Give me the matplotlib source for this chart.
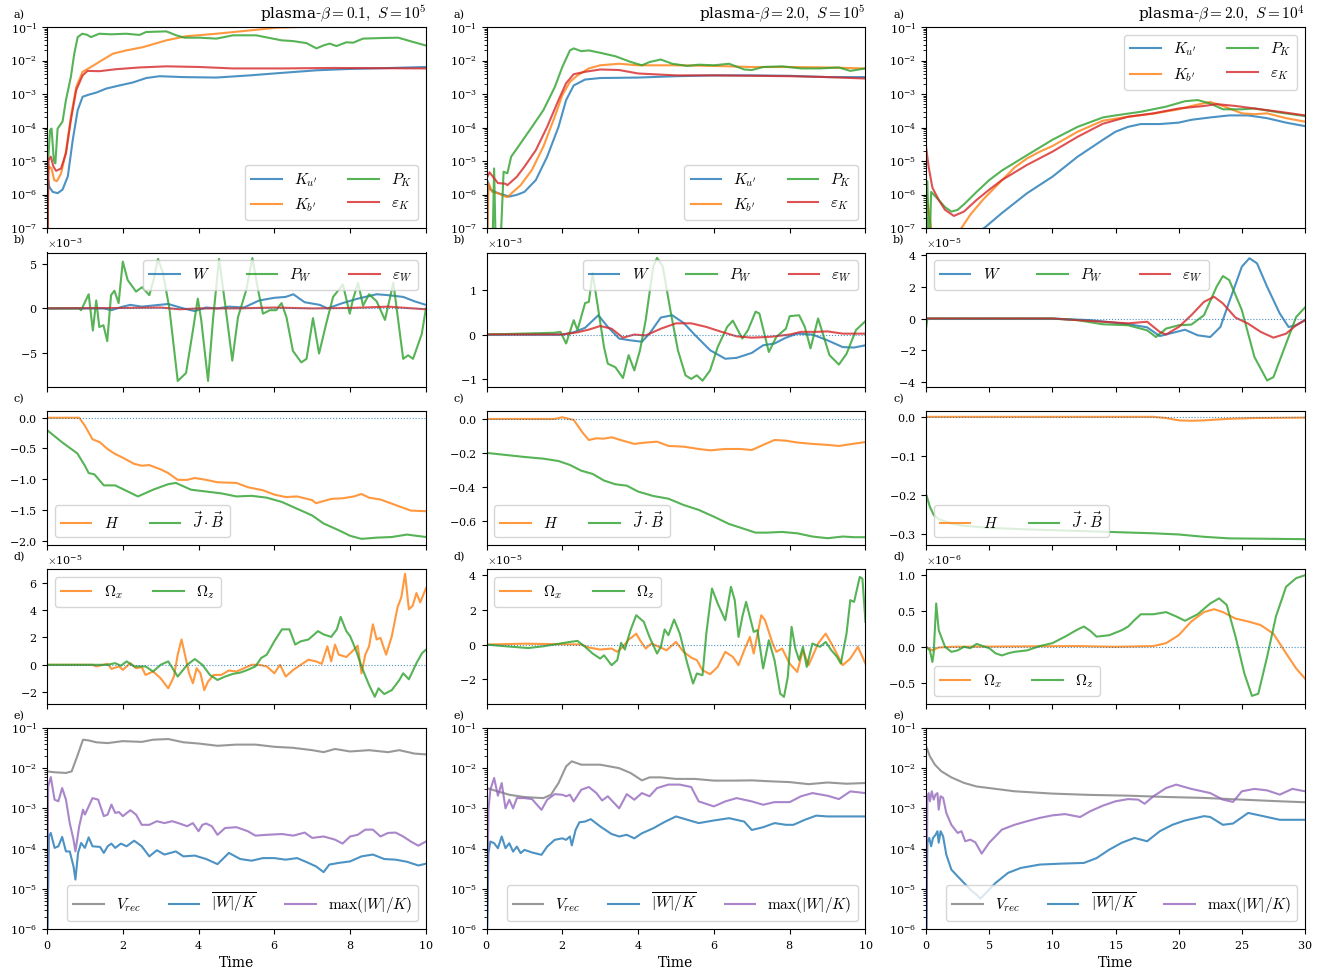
import numpy as np
import matplotlib
matplotlib.use('Agg')
import matplotlib.pyplot as plt
from matplotlib.ticker import LogLocator, MultipleLocator

plt.rcParams['font.family'] = 'serif'
plt.rcParams['font.serif'] = ['DejaVu Serif']
plt.rcParams['mathtext.fontset'] = 'cm'
plt.rcParams['axes.formatter.use_mathtext'] = True
plt.rcParams['xtick.labelsize'] = 8
plt.rcParams['ytick.labelsize'] = 8
plt.rcParams['legend.fontsize'] = 11

titles = [r'plasma-$\beta=0.1,\ S=10^5$', r'plasma-$\beta=2.0,\ S=10^5$', r'plasma-$\beta=2.0,\ S=10^4$']
t_end = [10, 10, 30]

# ---- row a: energies (log) ----
ku1 = [(0,1e-9),(0.03,2.7e-6),(0.06,1.7e-6),(0.15,1.2e-6),(0.28,1.1e-6),(0.41,1.4e-6),(0.55,3.5e-6),(0.68,4.3e-5),(0.81,3.3e-4),(0.94,8.3e-4),(1.12,9.7e-4),(1.3,1.1e-3),(1.56,1.45e-3),(1.91,1.8e-3),(2.26,2.2e-3),(2.62,3.0e-3),(2.97,3.4e-3),(3.59,3.2e-3),(4.47,3.1e-3),(5.35,3.6e-3),(6.23,4.3e-3),(7.11,5.1e-3),(7.99,5.6e-3),(8.87,5.9e-3),(10,6.4e-3)]
kb1 = [(0,1e-9),(0.03,5e-6),(0.06,6.8e-6),(0.12,6e-6),(0.19,2.7e-6),(0.26,2.5e-6),(0.37,4.2e-6),(0.5,1.9e-5),(0.63,2.1e-4),(0.77,1.6e-3),(0.94,4.6e-3),(1.16,6.4e-3),(1.38,9.1e-3),(1.74,1.6e-2),(2.09,2.0e-2),(2.53,2.5e-2),(3.15,4e-2),(3.67,5.3e-2),(4.47,6.3e-2),(5.35,7.9e-2),(6.05,9.5e-2),(6.67,0.1),(7.55,0.105),(8.43,0.107),(10,0.11)]
pk1 = [(0,1e-9),(0.03,1e-5),(0.08,8.3e-5),(0.12,9.3e-5),(0.18,1.07e-5),(0.22,8.5e-6),(0.28,9.3e-5),(0.41,1.5e-4),(0.5,6.6e-4),(0.63,3.25e-3),(0.72,1.61e-2),(0.81,5.0e-2),(0.93,6.3e-2),(1.05,5.9e-2),(1.16,5.0e-2),(1.38,6.3e-2),(1.69,6.05e-2),(2.09,6.3e-2),(2.44,5.8e-2),(2.62,7.1e-2),(3.15,7.4e-2),(3.41,5.65e-2),(3.63,4.8e-2),(4.03,4.8e-2),(4.47,4.5e-2),(4.91,5.65e-2),(5.52,5.65e-2),(5.96,4.5e-2),(6.19,4.0e-2),(6.49,3.8e-2),(6.85,3.3e-2),(7.11,2.3e-2),(7.29,2.8e-2),(7.46,3.2e-2),(7.64,2.7e-2),(7.9,3.5e-2),(8.08,3.4e-2),(8.34,4.5e-2),(8.87,4.7e-2),(9.27,4.8e-2),(9.58,3.8e-2),(10,2.8e-2)]
ek1 = [(0,1e-9),(0.04,1.07e-5),(0.1,1.35e-5),(0.17,6.8e-6),(0.24,5.1e-6),(0.37,6e-6),(0.5,1.7e-5),(0.63,1.66e-4),(0.77,1.3e-3),(0.94,3.6e-3),(1.07,4.9e-3),(1.38,4.8e-3),(1.82,5.5e-3),(2.44,6.2e-3),(3.15,6.7e-3),(4.03,6.4e-3),(4.91,5.8e-3),(6.23,5.8e-3),(7.55,6e-3),(10,5.8e-3)]

ku2 = [(0,1e-9),(0.03,2.5e-6),(0.1,1.4e-6),(0.3,1.1e-6),(0.6,8.7e-7),(0.8,9.8e-7),(1.0,1.2e-6),(1.3,2.7e-6),(1.6,1.35e-5),(1.9,1.05e-4),(2.1,6.6e-4),(2.3,1.8e-3),(2.6,2.7e-3),(3.0,3.0e-3),(4.0,3.1e-3),(5.0,3.4e-3),(6.0,3.6e-3),(7.0,3.6e-3),(8.0,3.5e-3),(9.0,3.2e-3),(10,3.2e-3)]
kb2 = [(0,1e-9),(0.05,2.2e-6),(0.15,1.2e-6),(0.3,1.1e-6),(0.5,8.7e-7),(0.55,8.4e-7),(0.7,1.2e-6),(0.9,1.9e-6),(1.2,5.5e-6),(1.5,2.7e-5),(1.8,2.1e-4),(2.0,9.3e-4),(2.2,2.3e-3),(2.4,3.6e-3),(2.7,5.8e-3),(3.0,7.2e-3),(3.5,8e-3),(4.0,7.2e-3),(5.0,7.2e-3),(6.0,6.9e-3),(7.0,6.4e-3),(8.0,6.4e-3),(9.0,6.2e-3),(10,5.8e-3)]
pk2 = [(0,1e-9),(0.15,1e-8),(0.2,6e-6),(0.25,1e-8),(0.35,1e-8),(0.45,4.8e-6),(0.55,4.3e-6),(0.65,1.35e-5),(0.9,3.4e-5),(1.2,1.05e-4),(1.5,3.3e-4),(1.8,1.6e-3),(2.0,6.4e-3),(2.2,2.0e-2),(2.3,2.3e-2),(2.5,1.9e-2),(2.7,2.0e-2),(3.0,1.7e-2),(3.4,1.34e-2),(3.8,9.1e-3),(4.1,7.2e-3),(4.3,9e-3),(4.6,1.07e-2),(4.9,8e-3),(5.3,6.9e-3),(5.6,7.5e-3),(6.0,7.2e-3),(6.4,8e-3),(6.8,5.4e-3),(7.0,5.2e-3),(7.3,6.4e-3),(7.8,6.7e-3),(8.3,5.8e-3),(8.8,5.8e-3),(9.3,6.2e-3),(9.6,4.9e-3),(10,5.8e-3)]
ek2 = [(0,3e-6),(0.08,4.6e-6),(0.3,2.2e-6),(0.5,2.1e-6),(0.55,1.9e-6),(0.8,3.4e-6),(1.0,6.8e-6),(1.3,2.1e-5),(1.6,1.05e-4),(1.9,6.6e-4),(2.1,2.1e-3),(2.3,3.9e-3),(2.6,4.6e-3),(3.0,5.4e-3),(3.5,5.2e-3),(4.0,4.1e-3),(5.0,3.6e-3),(6.0,3.6e-3),(7.0,3.5e-3),(8.0,3.4e-3),(9.0,3.2e-3),(10,2.9e-3)]

ku3 = [(0,1e-8),(4.6,1e-7),(6,2.8e-7),(8,1.1e-6),(10,3.4e-6),(12,1.35e-5),(14,4.3e-5),(15,7.5e-5),(16,1.05e-4),(17,1.27e-4),(18.5,1.27e-4),(20,1.4e-4),(21,1.7e-4),(22.5,2e-4),(24,2.3e-4),(25.5,2.3e-4),(27,1.9e-4),(28.5,1.4e-4),(30,1.1e-4)]
kb3 = [(0,1.5e-6),(0.5,5e-8),(1,3e-8),(2,4e-8),(2.8,1e-7),(3.5,2.5e-7),(4.5,7e-7),(5.5,1.7e-6),(7,6.4e-6),(8,1.2e-5),(9,1.9e-5),(10,2.8e-5),(12,7.5e-5),(14,1.6e-4),(16,2.1e-4),(18,2.6e-4),(20,3.5e-4),(21,4.4e-4),(22.5,5.8e-4),(23.5,4.4e-4),(25,2.65e-4),(26,2.5e-4),(27,2.65e-4),(28.5,1.9e-4),(30,1.5e-4)]
pk3 = [(0,1e-9),(0.1,2.5e-6),(0.25,1e-8),(0.4,1.2e-6),(1.0,6.9e-7),(1.5,4.2e-7),(2.0,3.1e-7),(2.5,3.5e-7),(3.0,5.1e-7),(4.0,1.2e-6),(5.0,2.7e-6),(6.0,5.2e-6),(8.0,1.5e-5),(10,4.3e-5),(12,1.05e-4),(14,2e-4),(15,2.3e-4),(17,2.95e-4),(19,4.2e-4),(20.5,6.1e-4),(21.5,6.6e-4),(22.5,5.2e-4),(23.5,3.5e-4),(25,3.5e-4),(26,3.7e-4),(28,2.8e-4),(30,2.2e-4)]
ek3 = [(0,2.6e-5),(0.2,6.8e-6),(0.5,1.6e-6),(1.0,6.9e-7),(1.5,3.5e-7),(2.2,2.3e-7),(3.0,3.1e-7),(4.0,6.9e-7),(5.0,1.4e-6),(6.0,2.7e-6),(8.0,7.7e-6),(10,1.9e-5),(12,5.3e-5),(14,1.3e-4),(16,2.1e-4),(18,2.65e-4),(20,3.7e-4),(22,4.4e-4),(23,5e-4),(24.5,4.4e-4),(26,3.7e-4),(28,2.95e-4),(30,2.3e-4)]

# ---- row b: W, P_W, eps_W (units of 1e-3, 1e-3, 1e-5) ----
w1 = [(0,0),(1.5,0),(1.7,-0.2),(2.0,0.2),(2.2,0.4),(2.5,0.2),(3.2,0.5),(3.6,0),(3.9,-0.3),(4.2,0.1),(4.5,0),(4.8,0.2),(5.2,0.1),(5.6,0.9),(6.0,1.2),(6.3,1.3),(6.5,1.6),(6.8,0.7),(7.2,0.4),(7.4,0),(7.8,0.6),(8.2,1.1),(8.7,1.6),(9.0,1.5),(9.4,1.3),(9.7,0.8),(10,0.4)]
pw1 = [(0,0),(0.85,0),(0.9,-0.2),(1.1,1.6),(1.21,-2.5),(1.3,0.9),(1.38,-2.1),(1.49,-1.9),(1.59,-3.7),(1.69,1.5),(1.78,2.0),(1.89,0.6),(2.0,5.3),(2.13,3.2),(2.35,1.9),(2.51,2.4),(2.7,1.5),(2.81,3.2),(2.93,5.6),(3.06,4.0),(3.23,0),(3.45,-8.2),(3.67,-7.3),(3.85,-2.5),(3.98,1.1),(4.07,-1.3),(4.25,-8.2),(4.38,-1.3),(4.54,5.6),(4.71,0.2),(4.89,-5.9),(5.04,-1.0),(5.26,2.1),(5.42,5.7),(5.57,2.1),(5.7,-0.6),(5.88,-0.2),(6.05,-0.2),(6.19,0.6),(6.32,-1.0),(6.49,-4.8),(6.71,-6.1),(6.85,-5.7),(7.02,-1.1),(7.18,-5.1),(7.37,-1.7),(7.55,1.3),(7.81,2.7),(7.99,-0.6),(8.08,1.1),(8.21,2.9),(8.34,0.3),(8.5,1.6),(8.7,0.8),(8.92,-1.3),(9.14,2.9),(9.4,-5.7),(9.53,-5.3),(9.66,-5.7),(9.89,-2.9),(10,0)]
ew1 = [(0,0),(2,0.05),(3,0.1),(3.5,-0.1),(4,0),(5,0),(6,0.1),(7,0),(8,0.05),(9,0.2),(10,-0.1)]

w2 = [(0,0),(2.0,0),(2.3,0.05),(2.6,0.15),(2.95,0.43),(3.2,0.17),(3.5,-0.09),(3.8,-0.13),(4.1,-0.16),(4.3,0.02),(4.6,0.38),(4.9,0.43),(5.2,0.26),(5.5,-0.01),(5.9,-0.35),(6.3,-0.54),(6.6,-0.52),(7.0,-0.41),(7.3,-0.24),(7.6,-0.2),(7.9,-0.07),(8.2,0.02),(8.6,0),(9.0,-0.13),(9.4,-0.28),(9.7,-0.29),(10,-0.24)]
pw2 = [(0,0),(1.8,0.04),(1.95,0.06),(2.1,-0.2),(2.3,0.32),(2.4,0.1),(2.6,0.7),(2.7,0.73),(2.8,1.37),(2.95,0.55),(3.1,-0.28),(3.2,-0.65),(3.4,-0.73),(3.6,-0.97),(3.75,-0.46),(3.9,-0.8),(4.05,-0.35),(4.2,0.32),(4.4,1.52),(4.5,1.71),(4.65,1.52),(4.85,0.55),(5.05,-0.35),(5.25,-0.91),(5.4,-0.99),(5.55,-0.91),(5.7,-1.03),(5.9,-0.8),(6.1,-0.28),(6.35,0.17),(6.5,0.31),(6.75,-0.09),(6.9,0.1),(7.1,0.51),(7.2,0.47),(7.45,-0.39),(7.65,-0.05),(7.9,0.13),(8.0,0.41),(8.25,0.43),(8.4,0.17),(8.55,-0.31),(8.75,0.36),(8.9,-0.05),(9.05,-0.46),(9.3,-0.67),(9.5,-0.43),(9.75,0.1),(10,0.3)]
ew2 = [(0,0),(2.0,0),(2.4,0.05),(2.7,0.11),(3.0,0.19),(3.3,0.13),(3.6,-0.07),(3.9,0),(4.2,-0.02),(4.6,0.13),(5.0,0.25),(5.4,0.25),(5.8,0.17),(6.2,0.06),(6.6,-0.04),(7.0,-0.07),(7.5,-0.05),(8.0,0),(8.3,0.06),(8.7,0.06),(9.0,0.07),(9.4,0.02),(10,0.02)]

w3 = [(0,0),(10,0),(13,-0.1),(16,-0.35),(17.5,-0.55),(18.5,-1.1),(19.5,-0.9),(20.5,-0.7),(21.5,-1.05),(22.5,-1.16),(23.3,-0.53),(24,1.05),(25,3.26),(25.6,3.79),(26.2,3.47),(27,2.0),(28,0.32),(28.7,-0.53),(29.3,-0.42),(30,-0.1)]
pw3 = [(0,-0.6),(0.1,0),(10,0),(12,-0.1),(14,-0.36),(16,-0.42),(17.5,-0.74),(18.2,-1.16),(19,-0.63),(20,-0.42),(21,-0.38),(22,0.21),(23,2.0),(23.5,2.67),(24,2.42),(25,0.53),(26,-2.42),(27,-3.89),(27.5,-3.68),(28.5,-1.58),(29.3,0.1),(30,0.7)]
ew3 = [(0,0),(10,0),(14,-0.2),(16,-0.3),(17.5,-0.2),(18.5,-0.84),(19,-1.0),(20,-0.53),(21,0.21),(22,1.05),(22.8,1.37),(23.5,0.95),(24.5,0.06),(25.5,-0.32),(26.5,-0.84),(27.5,-1.2),(28.5,-0.95),(29.3,-0.42),(30,-0.1)]

# ---- row c: helicity H and J.B ----
h1 = [(0,0),(0.85,0),(1.0,-0.13),(1.2,-0.35),(1.4,-0.4),(1.6,-0.51),(1.8,-0.59),(2.0,-0.65),(2.3,-0.75),(2.5,-0.78),(2.7,-0.77),(3.0,-0.84),(3.2,-0.9),(3.45,-1.01),(3.7,-1.01),(3.9,-0.98),(4.2,-1.01),(4.5,-1.05),(5.0,-1.06),(5.3,-1.13),(5.7,-1.18),(6.0,-1.25),(6.3,-1.29),(6.6,-1.28),(7.0,-1.34),(7.1,-1.39),(7.5,-1.32),(7.8,-1.31),(8.1,-1.28),(8.3,-1.24),(8.5,-1.3),(8.8,-1.33),(9.2,-1.42),(9.6,-1.51),(10,-1.52)]
jb1 = [(0,-0.2),(0.4,-0.4),(0.8,-0.58),(1.0,-0.78),(1.1,-0.9),(1.25,-0.92),(1.5,-1.1),(1.8,-1.1),(2.0,-1.16),(2.3,-1.25),(2.4,-1.28),(2.8,-1.17),(3.2,-1.08),(3.4,-1.06),(3.8,-1.17),(4.2,-1.2),(4.6,-1.23),(5.0,-1.28),(5.4,-1.27),(5.8,-1.3),(6.2,-1.37),(6.6,-1.48),(7.0,-1.59),(7.3,-1.72),(7.7,-1.83),(8.0,-1.92),(8.3,-1.97),(8.7,-1.95),(9.1,-1.94),(9.5,-1.9),(10,-1.94)]
h2 = [(0,0),(1.8,0),(2.0,0.01),(2.3,-0.006),(2.55,-0.085),(2.7,-0.124),(2.9,-0.114),(3.1,-0.116),(3.3,-0.108),(3.6,-0.128),(3.9,-0.147),(4.2,-0.139),(4.5,-0.134),(4.8,-0.159),(5.2,-0.163),(5.6,-0.177),(5.9,-0.185),(6.3,-0.177),(6.7,-0.177),(7.0,-0.183),(7.3,-0.153),(7.6,-0.124),(7.9,-0.128),(8.2,-0.139),(8.6,-0.147),(9.0,-0.153),(9.3,-0.159),(9.6,-0.149),(10,-0.136)]
jb2 = [(0,-0.2),(0.5,-0.212),(1.0,-0.224),(1.5,-0.234),(1.9,-0.248),(2.2,-0.271),(2.5,-0.305),(2.8,-0.324),(3.1,-0.363),(3.4,-0.385),(3.7,-0.393),(4.0,-0.428),(4.4,-0.454),(4.8,-0.47),(5.2,-0.507),(5.6,-0.536),(6.0,-0.576),(6.4,-0.619),(6.8,-0.648),(7.1,-0.67),(7.4,-0.67),(7.8,-0.666),(8.2,-0.674),(8.6,-0.693),(9.0,-0.703),(9.4,-0.693),(9.7,-0.697),(10,-0.697)]
h3 = [(0,0),(18,0),(19,-0.003),(20,-0.009),(21,-0.01),(22,-0.009),(24,-0.005),(26,-0.003),(30,-0.002)]
jb3 = [(0,-0.198),(0.3,-0.23),(0.6,-0.251),(1.0,-0.262),(2.0,-0.273),(3.0,-0.279),(5,-0.284),(8,-0.288),(12,-0.292),(16,-0.296),(18,-0.298),(20,-0.301),(22,-0.307),(24,-0.311),(27,-0.312),(30,-0.313)]

# ---- row d: Omega_x, Omega_z (units 1e-5, 1e-5, 1e-6) ----
ox1 = [(0,0),(1.2,0),(1.3,-0.12),(1.6,0.07),(1.7,-0.3),(1.9,-0.12),(2.0,-0.37),(2.2,0.12),(2.35,-0.25),(2.5,-0.17),(2.6,-0.74),(2.8,-0.49),(3.0,-0.99),(3.2,-1.72),(3.35,-0.86),(3.45,0.74),(3.55,1.85),(3.65,0.62),(3.75,-0.62),(3.85,-1.35),(3.95,-0.25),(4.05,-0.62),(4.15,-1.85),(4.25,-1.23),(4.4,-0.74),(4.6,-0.74),(4.8,-0.42),(5.0,-0.49),(5.2,-0.25),(5.4,0),(5.6,0),(5.8,-0.12),(6.0,-0.62),(6.15,0),(6.3,-0.86),(6.5,-0.37),(6.7,0),(6.9,0.37),(7.1,0.25),(7.25,0.07),(7.4,1.35),(7.5,0.25),(7.6,1.48),(7.7,0.74),(7.9,0.57),(8.1,1.1),(8.2,1.4),(8.3,-0.62),(8.4,0.74),(8.5,1.35),(8.6,2.96),(8.7,1.85),(8.8,1.97),(8.95,0.74),(9.1,2.09),(9.25,4.19),(9.35,4.93),(9.45,6.65),(9.55,4.06),(9.65,4.31),(9.75,5.25),(9.85,4.56),(10,5.59)]
oz1 = [(0,0),(1.6,0),(1.8,0.12),(1.95,-0.07),(2.1,0.25),(2.3,-0.12),(2.6,-0.12),(2.8,-0.49),(3.0,0),(3.2,0.25),(3.45,-0.86),(3.7,0),(3.9,0.42),(4.1,0),(4.3,-0.74),(4.5,-1.11),(4.7,-0.86),(4.9,-0.67),(5.1,-0.57),(5.3,-0.37),(5.5,-0.12),(5.65,0.49),(5.8,0.74),(6.0,1.72),(6.2,2.59),(6.4,2.59),(6.55,1.48),(6.7,1.72),(6.9,1.85),(7.0,2.09),(7.15,2.46),(7.3,2.22),(7.5,2.04),(7.65,2.59),(7.75,3.5),(7.9,2.46),(8.0,2.09),(8.15,1.1),(8.3,-0.12),(8.5,-1.48),(8.65,-2.34),(8.75,-1.72),(8.9,-2.14),(9.1,-1.85),(9.3,-1.11),(9.4,-0.62),(9.55,-1.06),(9.75,0.12),(9.9,0.86),(10,1.1)]
ox2 = [(0,0),(1,0.05),(2.5,0),(2.7,-0.17),(3.0,-0.29),(3.3,-0.23),(3.45,-0.42),(3.6,-0.13),(3.75,0.29),(3.85,0.44),(3.95,0.63),(4.05,0.25),(4.2,-0.23),(4.35,0.06),(4.55,-0.13),(4.75,-0.33),(5.0,0.15),(5.2,-0.42),(5.4,-0.75),(5.55,-0.9),(5.7,-1.48),(5.9,-1.71),(6.1,-1.29),(6.3,-0.42),(6.5,-0.71),(6.65,-1.19),(6.8,-0.33),(6.95,0.44),(7.05,-0.52),(7.25,1.69),(7.35,1.4),(7.55,0.06),(7.65,-0.42),(7.8,-0.23),(8.0,-1.1),(8.2,-1.58),(8.35,-0.33),(8.5,-1.19),(8.75,0.06),(8.95,0.63),(9.15,-0.13),(9.4,-1.19),(9.6,-0.81),(9.8,-0.13),(10,-1.1)]
oz2 = [(0,0),(0.5,-0.1),(1.1,-0.2),(1.5,-0.1),(2.2,0.15),(2.4,0.21),(2.6,-0.13),(2.8,-0.52),(3.0,-0.81),(3.1,-0.62),(3.3,-1.19),(3.45,-0.9),(3.55,0.1),(3.65,-0.29),(3.8,0.83),(3.95,1.69),(4.15,1.31),(4.3,0.44),(4.5,-0.52),(4.6,-0.13),(4.7,0.87),(4.8,0.54),(4.95,1.44),(5.1,0.63),(5.3,-1.1),(5.45,-2.25),(5.55,-1.67),(5.7,-1.77),(5.8,0.63),(5.95,3.23),(6.1,2.37),(6.3,1.4),(6.45,3.33),(6.55,2.56),(6.65,0.44),(6.75,1.6),(6.85,2.46),(6.95,1.6),(7.05,0.73),(7.15,0.83),(7.3,-1.38),(7.45,0.25),(7.6,-0.9),(7.75,-2.83),(7.85,-3.02),(7.95,-1.87),(8.05,1.02),(8.15,-0.23),(8.25,-0.9),(8.35,-0.13),(8.45,-1.29),(8.6,0.06),(8.8,-0.13),(8.95,0.15),(9.1,-0.33),(9.25,-0.71),(9.35,-1.1),(9.5,0.63),(9.6,2.56),(9.7,2.46),(9.85,3.9),(9.92,3.8),(10,1.31)]
ox3 = [(0,0),(0.5,-0.05),(1.0,-0.01),(2,0),(12,0.01),(15,0),(18,0.01),(19,0.05),(20,0.16),(21,0.35),(22,0.48),(22.8,0.52),(23.5,0.48),(24.5,0.39),(25.5,0.35),(26.5,0.3),(27.5,0.18),(28.5,-0.09),(29.3,-0.3),(30,-0.44)]
oz3 = [(0,0),(0.3,-0.05),(0.5,-0.21),(0.6,-0.09),(0.8,0.6),(1.0,0.23),(1.5,0),(2.0,-0.07),(2.5,-0.05),(3.0,0),(3.5,-0.02),(4.0,0.04),(4.5,0.01),(5.0,-0.02),(5.5,-0.09),(6.0,-0.12),(6.5,-0.09),(7.0,-0.07),(8.0,-0.05),(9.0,0.01),(10,0.05),(11,0.14),(12,0.24),(12.5,0.28),(13,0.22),(13.5,0.14),(14.5,0.16),(15.5,0.23),(16,0.28),(16.5,0.37),(17,0.45),(18,0.45),(19,0.48),(19.8,0.42),(20.5,0.36),(21.5,0.45),(22.5,0.6),(23.2,0.67),(23.8,0.58),(24.5,0.14),(25.2,-0.37),(25.8,-0.68),(26.3,-0.65),(27,-0.14),(27.7,0.42),(28.5,0.83),(29.3,0.95),(30,0.99)]

# ---- row e: V_rec, mean |W|/K, max |W|/K (log) ----
vr1 = [(0,8.3e-3),(0.2,7.9e-3),(0.5,7.6e-3),(0.65,8.3e-3),(0.8,2e-2),(0.95,5.1e-2),(1.1,4.9e-2),(1.3,4.4e-2),(1.6,4.2e-2),(2.0,4.7e-2),(2.5,4.5e-2),(2.8,5.1e-2),(3.2,5.3e-2),(3.6,4.4e-2),(4.0,4.1e-2),(4.5,3.6e-2),(5.0,3.85e-2),(5.5,3.85e-2),(6.0,3.4e-2),(6.5,3.2e-2),(7.0,2.8e-2),(7.3,2.5e-2),(7.6,3e-2),(8.0,2.6e-2),(8.5,2.8e-2),(9.0,2.5e-2),(9.3,2.8e-2),(9.7,2.3e-2),(10,2.2e-2)]
wk1 = [(0,1e-7),(0.05,2.0e-4),(0.1,2.45e-4),(0.2,1.04e-4),(0.3,1.14e-4),(0.4,1.95e-4),(0.5,8.5e-5),(0.6,8.5e-5),(0.7,3.6e-5),(0.75,1.7e-5),(0.82,7.8e-5),(0.9,1.38e-4),(1.0,1.04e-4),(1.1,1.9e-4),(1.2,1.14e-4),(1.4,1.1e-4),(1.5,7.8e-5),(1.6,1.14e-4),(1.7,1.33e-4),(1.8,1.04e-4),(1.95,1.33e-4),(2.1,1.14e-4),(2.3,1.57e-4),(2.5,1.14e-4),(2.7,6.4e-5),(2.9,9.1e-5),(3.1,7.1e-5),(3.4,8.5e-5),(3.6,6.4e-5),(3.9,6.7e-5),(4.2,5.5e-5),(4.5,4.1e-5),(4.8,7.8e-5),(5.1,5.5e-5),(5.4,5.0e-5),(5.7,5.8e-5),(6.0,5.8e-5),(6.3,5.3e-5),(6.6,5.8e-5),(6.9,4.4e-5),(7.1,3.6e-5),(7.3,2.6e-5),(7.45,4.0e-5),(7.7,4.4e-5),(8.0,4.8e-5),(8.3,6.4e-5),(8.6,7.1e-5),(8.9,5.5e-5),(9.2,5.3e-5),(9.5,4.7e-5),(9.8,3.8e-5),(10,4.2e-5)]
mx1 = [(0,1e-7),(0.03,3.5e-3),(0.1,6.0e-3),(0.2,1.65e-3),(0.3,1.5e-3),(0.4,3.2e-3),(0.5,1.65e-3),(0.6,4.3e-4),(0.7,1.67e-4),(0.75,8.5e-5),(0.85,3.6e-4),(0.95,9.3e-4),(1.0,7.0e-4),(1.1,1.12e-3),(1.2,1.8e-3),(1.35,1.65e-3),(1.5,6.4e-4),(1.6,7.0e-4),(1.7,1.24e-3),(1.8,7.7e-4),(1.9,8.1e-4),(2.0,6.4e-4),(2.2,9e-4),(2.35,7e-4),(2.5,3.9e-4),(2.7,3.9e-4),(2.9,4.8e-4),(3.1,4.3e-4),(3.3,4.8e-4),(3.5,4.2e-4),(3.7,3.6e-4),(3.85,4.3e-4),(4.0,2.7e-4),(4.1,3.9e-4),(4.2,4.2e-4),(4.35,3.6e-4),(4.5,2.2e-4),(4.7,3.25e-4),(5.0,3.4e-4),(5.3,2.7e-4),(5.5,2.1e-4),(5.8,2.2e-4),(6.2,2.3e-4),(6.5,2.1e-4),(6.8,2.5e-4),(7.0,1.84e-4),(7.3,2.0e-4),(7.6,1.67e-4),(7.8,1.33e-4),(8.0,2.0e-4),(8.2,2.2e-4),(8.4,2.96e-4),(8.6,2.96e-4),(8.8,2.0e-4),(9.0,2.45e-4),(9.2,2.5e-4),(9.4,2.0e-4),(9.6,1.5e-4),(9.8,1.18e-4),(10,1.5e-4)]

vr2 = [(0,3.2e-3),(0.3,2.64e-3),(0.6,2.18e-3),(1.0,1.91e-3),(1.5,1.8e-3),(1.7,2.18e-3),(1.9,4.27e-3),(2.1,1.11e-2),(2.25,1.48e-2),(2.5,1.22e-2),(3.0,1.22e-2),(3.5,1.0e-2),(3.8,7.6e-3),(4.1,4.97e-3),(4.3,5.9e-3),(4.6,5.9e-3),(5.0,5.4e-3),(5.5,5.4e-3),(6.0,4.9e-3),(6.5,4.9e-3),(7.0,4.97e-3),(7.5,4.7e-3),(8.0,4.5e-3),(8.5,4.0e-3),(9.0,4.4e-3),(9.5,4.1e-3),(10,4.27e-3)]
wk2 = [(0,1e-7),(0.05,7.7e-5),(0.1,1.5e-4),(0.2,1.36e-4),(0.3,1.02e-4),(0.4,2.0e-4),(0.5,1.02e-4),(0.6,1.36e-4),(0.7,8.4e-5),(0.8,1.12e-4),(0.9,7.7e-5),(1.0,9.3e-5),(1.2,8.0e-5),(1.45,7.0e-5),(1.6,1.12e-4),(1.8,1.65e-4),(2.0,1.8e-4),(2.1,1.65e-4),(2.2,2.0e-4),(2.25,1.2e-4),(2.35,2.9e-4),(2.45,4.5e-4),(2.6,4.7e-4),(2.75,5.4e-4),(3.0,3.55e-4),(3.3,2.3e-4),(3.5,2.0e-4),(3.7,2.2e-4),(3.9,1.8e-4),(4.1,2.4e-4),(4.4,3.2e-4),(4.7,4.6e-4),(5.0,6.3e-4),(5.3,5.2e-4),(5.6,4.3e-4),(6.0,5.0e-4),(6.4,5.7e-4),(6.8,4.7e-4),(7.0,2.9e-4),(7.3,3.4e-4),(7.6,4.3e-4),(7.9,3.9e-4),(8.1,3.9e-4),(8.4,5.2e-4),(8.7,6.6e-4),(9.0,6.3e-4),(9.5,6.3e-4),(10,6.3e-4)]
mx2 = [(0,1e-7),(0.05,9.2e-4),(0.1,2.9e-3),(0.2,5.7e-3),(0.3,2.06e-3),(0.4,4.27e-3),(0.5,1.0e-3),(0.6,1.64e-3),(0.7,1.0e-3),(0.8,1.8e-3),(1.0,1.8e-3),(1.2,1.7e-3),(1.45,9.2e-4),(1.6,1.64e-3),(1.8,2.26e-3),(2.0,2.18e-3),(2.1,2.0e-3),(2.2,2.18e-3),(2.3,1.49e-3),(2.5,2.9e-3),(2.7,3.4e-3),(2.9,2.4e-3),(3.05,1.57e-3),(3.2,2.0e-3),(3.5,1.0e-3),(3.7,2.26e-3),(3.9,1.64e-3),(4.1,2.4e-3),(4.3,2.0e-3),(4.5,3.2e-3),(4.8,3.9e-3),(5.1,3.9e-3),(5.4,3.4e-3),(5.6,1.49e-3),(6.0,1.12e-3),(6.3,1.49e-3),(6.6,1.8e-3),(7.0,1.49e-3),(7.3,1.23e-3),(7.6,1.43e-3),(8.0,1.43e-3),(8.3,2.0e-3),(8.6,2.4e-3),(9.0,2.06e-3),(9.3,1.7e-3),(9.6,2.64e-3),(10,2.4e-3)]

vr3 = [(0,3.5e-2),(0.3,1.97e-2),(0.7,1.22e-2),(1.2,8.4e-3),(2.0,5.9e-3),(3.0,4.3e-3),(4.0,3.5e-3),(5.0,3.2e-3),(7,2.66e-3),(10,2.33e-3),(13,2.16e-3),(16,2.07e-3),(19,1.92e-3),(22,1.82e-3),(25,1.65e-3),(28,1.5e-3),(30,1.42e-3)]
wk3 = [(0,1e-7),(0.1,1.4e-4),(0.25,1.84e-4),(0.4,1.14e-4),(0.55,1.84e-4),(0.75,2.2e-4),(0.9,2.7e-4),(1.0,1.4e-4),(1.15,2.7e-4),(1.35,2.0e-4),(1.6,7.1e-5),(2.0,3.0e-5),(2.5,2.04e-5),(3.0,1.4e-5),(3.5,9.5e-6),(4.0,7.1e-6),(4.3,5.7e-6),(4.6,7.1e-6),(5.5,1.4e-5),(6.5,2.5e-5),(7.5,3.3e-5),(9,4.0e-5),(10.5,4.2e-5),(12.5,4.4e-5),(13.5,5.8e-5),(14.5,9.4e-5),(15.5,1.4e-4),(16.5,1.84e-4),(17.5,1.52e-4),(18.5,2.7e-4),(19.5,3.9e-4),(20.5,5.0e-4),(22,6.4e-4),(22.5,6.1e-4),(23.5,3.9e-4),(24.3,4.2e-4),(25.5,7.7e-4),(26.5,6.6e-4),(28,5.2e-4),(30,5.2e-4)]
mx3 = [(0,1e-7),(0.1,1.65e-3),(0.2,2.4e-3),(0.3,1.5e-3),(0.45,2.66e-3),(0.6,1.65e-3),(0.75,2.2e-3),(0.9,2.4e-3),(1.0,9.3e-4),(1.15,2.0e-3),(1.35,1.82e-3),(1.6,7.7e-4),(2.0,3.9e-4),(2.5,2.45e-4),(2.8,2.7e-4),(3.1,1.52e-4),(3.5,1.67e-4),(3.9,1.43e-4),(4.4,7.5e-5),(5.0,1.4e-4),(6.0,2.96e-4),(7.0,3.9e-4),(8.0,4.8e-4),(9.0,5.8e-4),(10,6.7e-4),(11,7.2e-4),(12.2,6.1e-4),(13,8.5e-4),(14,1.17e-3),(15,1.5e-3),(16,1.7e-3),(16.8,1.65e-3),(17.3,1.3e-3),(18,2.0e-3),(19,3.2e-3),(19.8,3.9e-3),(21,3.05e-3),(22.5,2.4e-3),(23.5,1.65e-3),(24.3,1.45e-3),(25,2.66e-3),(26,3.05e-3),(27,2.8e-3),(28,2.2e-3),(29,3.05e-3),(30,2.66e-3)]

# axis limits
ylim_b = [(-8.83e-3, 6.32e-3), (-1.16e-3, 1.83e-3), (-4.27e-5, 4.15e-5)]
ylim_c = [(-2.07, 0.11), (-0.743, 0.047), (-0.328, 0.015)]
ylim_d = [(-2.83e-5, 6.97e-5), (-3.4e-5, 4.33e-5), (-0.785e-6, 1.07e-6)]
ystep_b = [5e-3, 1e-3, 2e-5]
scale_b = [1e-3, 1e-3, 1e-5]
scale_d = [1e-5, 1e-5, 1e-6]

rows = {
    'a': [[ku1, kb1, pk1, ek1], [ku2, kb2, pk2, ek2], [ku3, kb3, pk3, ek3]],
    'b': [[w1, pw1, ew1], [w2, pw2, ew2], [w3, pw3, ew3]],
    'c': [[h1, jb1], [h2, jb2], [h3, jb3]],
    'd': [[ox1, oz1], [ox2, oz2], [ox3, oz3]],
    'e': [[vr1, wk1, mx1], [vr2, wk2, mx2], [vr3, wk3, mx3]],
}
colors = {'a': ['C0', 'C1', 'C2', 'C3'], 'b': ['C0', 'C2', 'C3'], 'c': ['C1', 'C2'],
          'd': ['C1', 'C2'], 'e': ['C7', 'C0', 'C4']}
labels = {'a': [r'$K_{u^\prime}$', r'$K_{b^\prime}$', r'$P_K$', r'$\varepsilon_K$'],
          'b': [r'$W$', r'$P_W$', r'$\varepsilon_W$'],
          'c': [r'$H$', r'$\vec{J}\cdot\vec{B}$'],
          'd': [r'$\Omega_x$', r'$\Omega_z$'],
          'e': [r'$V_{rec}$', r'$\overline{|W|/K}$', r'$\max(|W|/K)$']}
leg_loc = {'a': ['lower right', 'lower right', 'upper right'],
           'b': ['upper right', 'upper right', 'upper left'],
           'c': ['lower left'] * 3,
           'd': ['upper left', 'upper left', 'lower left'],
           'e': ['lower right'] * 3}
ncols = {'a': 2, 'b': 3, 'c': 2, 'd': 2, 'e': 3}
colspace = {'a': 2.0, 'b': 2.4, 'c': 2.0, 'd': 2.0, 'e': 1.8}

fig = plt.figure(figsize=(13.29, 9.75), dpi=100)
gs = fig.add_gridspec(5, 3, left=47/1329, right=1305/1329, top=1-27/975, bottom=1-929/975,
                      wspace=0.16, hspace=0.152, height_ratios=[1.5, 1, 1, 1, 1.5])

for j in range(3):
    top_ax = None
    for i, key in enumerate('abcde'):
        ax = fig.add_subplot(gs[i, j], sharex=top_ax)
        if top_ax is None:
            top_ax = ax
        sc = 1.0
        if key == 'b':
            sc = scale_b[j]
        if key == 'd':
            sc = scale_d[j]
        for s, c, lab in zip(rows[key][j], colors[key], labels[key]):
            t, v = np.array(s).T
            ax.plot(t, v * sc, color=c, lw=1.5, alpha=0.8, label=lab)
        if key in 'ae':
            ax.set_yscale('log')
            ax.yaxis.set_major_locator(LogLocator(base=10, numticks=12))
            ax.set_ylim((1e-7, 1e-1) if key == 'a' else (1e-6, 1e-1))
        else:
            ax.axhline(0, color='C0', ls=':', lw=0.8, alpha=0.8)
            if key == 'b':
                ax.set_ylim(*ylim_b[j])
                ax.yaxis.set_major_locator(MultipleLocator(ystep_b[j]))
            elif key == 'c':
                ax.set_ylim(*ylim_c[j])
            else:
                ax.set_ylim(*ylim_d[j])
            if key in 'bd':
                ax.ticklabel_format(axis='y', style='sci', scilimits=(0, 0), useMathText=True)
        ax.set_xlim(0, t_end[j])
        ax.legend(loc=leg_loc[key][j], ncol=ncols[key], columnspacing=colspace[key])
        ax.annotate(key + ')', xy=(0, 1), xycoords='axes fraction', xytext=(-33, 12),
                    textcoords='offset pixels', ha='left', va='center', fontsize=8)
        if key == 'a':
            ax.set_title(titles[j], loc='right', fontsize=11)
        if key != 'e':
            ax.tick_params(labelbottom=False)
        else:
            ax.set_xlabel('Time', fontsize=10)

plt.savefig('out.png', dpi=100)
